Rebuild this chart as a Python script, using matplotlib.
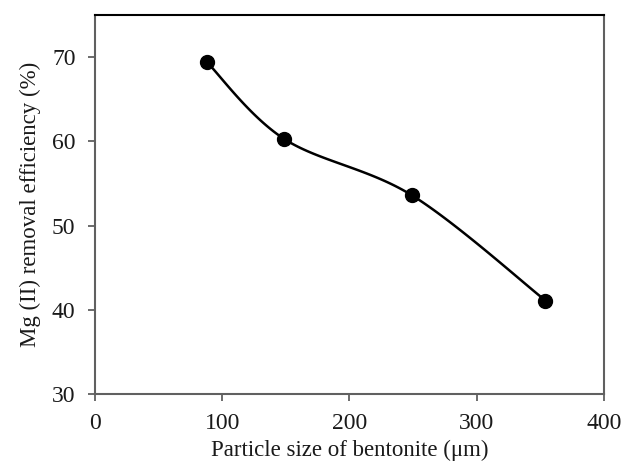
import matplotlib
matplotlib.use("Agg")
import matplotlib.pyplot as plt
import numpy as np

# particle size (um) vs Mg(II) removal efficiency (%)
particle_size = [88, 148.5, 249, 354]
removal = [69.4, 60.3, 53.6, 41.1]


def excel_smooth(x, y, n=40):
    # cardinal (Catmull-Rom like) bezier, as spreadsheet "smoothed line"
    x = np.asarray(x, float)
    y = np.asarray(y, float)
    px = np.concatenate([[x[0]], x, [x[-1]]])
    py = np.concatenate([[y[0]], y, [y[-1]]])
    xs, ys = [], []
    t = np.linspace(0, 1, n)
    for i in range(1, len(px) - 2):
        p0 = np.array([px[i], py[i]])
        p3 = np.array([px[i + 1], py[i + 1]])
        p1 = p0 + (np.array([px[i + 1], py[i + 1]]) - np.array([px[i - 1], py[i - 1]])) / 6
        p2 = p3 - (np.array([px[i + 2], py[i + 2]]) - np.array([px[i], py[i]])) / 6
        b = ((1 - t) ** 3)[:, None] * p0 + (3 * (1 - t) ** 2 * t)[:, None] * p1 \
            + (3 * (1 - t) * t ** 2)[:, None] * p2 + (t ** 3)[:, None] * p3
        xs.extend(b[:, 0])
        ys.extend(b[:, 1])
    return xs, ys


plt.rcParams['font.family'] = ['Liberation Serif', 'DejaVu Serif']

fig = plt.figure(figsize=(6.22, 4.61), dpi=100)
ax = fig.add_axes([0.1527, 0.1453, 0.8183, 0.8222])

sx, sy = excel_smooth(particle_size, removal)
ax.plot(sx, sy, color='black', lw=1.8)
ax.plot(particle_size, removal, 'o', color='black', ms=10)

ax.set_xlim(0, 400)
ax.set_ylim(30, 75)
ax.set_xticks([0, 100, 200, 300, 400])
ax.set_yticks([30, 40, 50, 60, 70])

for side in ['left', 'bottom', 'right']:
    ax.spines[side].set_color('#606060')
    ax.spines[side].set_linewidth(1.5)
ax.spines['top'].set_color('black')
ax.spines['top'].set_linewidth(1.5)

ax.tick_params(direction='out', length=5, width=1.3, color='#606060',
               labelsize=17, labelcolor='#1a1a1a')
ax.tick_params(axis='x', pad=9)
ax.tick_params(axis='y', pad=9)
ax.set_xlabel('Particle size of bentonite (\u03bcm)', fontsize=16.5, color='#1a1a1a', labelpad=4)
ax.set_ylabel('Mg (II) removal efficiency (%)', fontsize=16.5, color='#1a1a1a', labelpad=8)

fig.savefig('out.png', dpi=100)
